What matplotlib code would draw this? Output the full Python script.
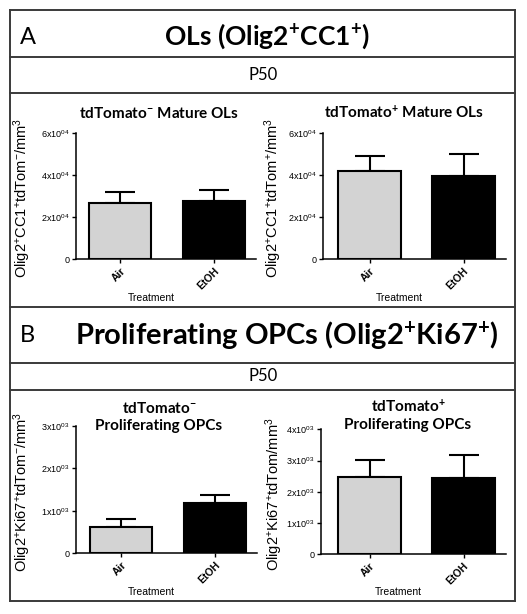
import matplotlib
matplotlib.use('Agg')
from matplotlib import pyplot as plt

plt.rcParams['font.family'] = ['Liberation Sans', 'DejaVu Sans']
plt.rcParams['mathtext.default'] = 'regular'

W, H = 527, 614

categories = ['Air', 'EtOH']
bar_colors = ['#d3d3d3', 'black']

# tdTomato- mature OLs
ol_neg_mean = [2.68e4, 2.78e4]
ol_neg_sem = [0.51e4, 0.52e4]
# tdTomato+ mature OLs
ol_pos_mean = [4.22e4, 3.97e4]
ol_pos_sem = [0.70e4, 1.04e4]
# tdTomato- proliferating OPCs
opc_neg_mean = [0.63e3, 1.18e3]
opc_neg_sem = [0.17e3, 0.18e3]
# tdTomato+ proliferating OPCs
opc_pos_mean = [2.48e3, 2.43e3]
opc_pos_sem = [0.54e3, 0.75e3]

ol_ticks = [0, 2e4, 4e4, 6e4]
opc_neg_ticks = [0, 1e3, 2e3, 3e3]
opc_pos_ticks = [0, 1e3, 2e3, 3e3, 4e3]

titles = ['tdTomato$^{-}$ Mature OLs', 'tdTomato$^{+}$ Mature OLs',
          'tdTomato$^{-}$\nProliferating OPCs', 'tdTomato$^{+}$\nProliferating OPCs']
ylabels = ['Olig2$^{+}$CC1$^{+}$tdTom$^{-}$/mm$^{3}$',
           'Olig2$^{+}$CC1$^{+}$tdTom$^{+}$/mm$^{3}$',
           'Olig2$^{+}$Ki67$^{+}$tdTom$^{-}$/mm$^{3}$',
           'Olig2$^{+}$Ki67$^{+}$tdTom/mm$^{3}$']


def tick_label(v, e):
    if v == 0:
        return '0'
    return '%dx10$^{0%d}$' % (round(v / 10 ** e), e)


fig = plt.figure(figsize=(W / 100, H / 100), dpi=100)

# background layer in pixel coords: table lines and headers
bg = fig.add_axes([0, 0, 1, 1])
bg.set_xlim(0, W)
bg.set_ylim(H, 0)
bg.axis('off')
line_kw = dict(color='#3a3a3a', lw=1.4)
L, R = 10, 515
for y in [10, 57, 93, 307, 363, 390, 601]:
    bg.plot([L, R], [y, y], **line_kw)
bg.plot([L, L], [10, 601], **line_kw)
bg.plot([R, R], [10, 601], **line_kw)

bg.text(20, 37, 'A', fontsize=17, family='Lato', va='center', ha='left')
bg.text(267, 36, 'OLs (Olig2$^{+}$CC1$^{+}$)', fontsize=19, family='Lato',
        weight='bold', va='center', ha='center')
bg.text(263, 75, 'P50', fontsize=12, family='Lato', va='center', ha='center')
bg.text(20, 336, 'B', fontsize=17, family='Lato', va='center', ha='left')
bg.text(287, 336, 'Proliferating OPCs (Olig2$^{+}$Ki67$^{+}$)', fontsize=21,
        family='Lato', weight='bold', va='center', ha='center')
bg.text(263, 376, 'P50', fontsize=12, family='Lato', va='center', ha='center')

# panel geometry: axis x, Air center x, zero y, top y (pixels)
panels = [
    (76, 120, 259.3, 132.7, ol_neg_mean, ol_neg_sem, ol_ticks, 4, 159, 113, 22, 298),
    (323, 369.5, 259.3, 133.3, ol_pos_mean, ol_pos_sem, ol_ticks, 4, 404, 113, 273, 298),
    (76, 121, 553.3, 425.7, opc_neg_mean, opc_neg_sem, opc_neg_ticks, 3, 159, 417, 22, 592),
    (321, 369.5, 554.3, 429.3, opc_pos_mean, opc_pos_sem, opc_pos_ticks, 3, 408, 415, 274, 592),
]
step = 94.0
x_right = 1.45

for i, (xa, cx0, y0, yt, mean, sem, ticks, e, tx, ty, lx, xly) in enumerate(panels):
    x1 = cx0 + x_right * step
    ax = fig.add_axes([xa / W, 1 - y0 / H, (x1 - xa) / W, (y0 - yt) / H])
    ax.patch.set_alpha(0)
    pos = list(range(len(categories)))
    ax.bar(pos, mean, width=0.66, color=bar_colors, edgecolor='black',
           linewidth=1.5, zorder=2)
    ax.errorbar(pos, mean, yerr=[[0, 0], sem], fmt='none', ecolor='black',
                elinewidth=1.5, capsize=11, capthick=1.5, zorder=1)
    ax.set_xlim((xa - cx0) / step, x_right)
    ax.set_ylim(0, ticks[-1])
    ax.set_yticks(ticks)
    ax.set_yticklabels([tick_label(v, e) for v in ticks], fontsize=6.5)
    ax.set_xticks(pos)
    ax.set_xticklabels(categories, rotation=45, ha='right', va='top',
                       rotation_mode='anchor', fontsize=7.5, weight='bold')
    ax.tick_params(length=3, width=1, pad=1.5)
    for s in ['top', 'right']:
        ax.spines[s].set_visible(False)
    for s in ['left', 'bottom']:
        ax.spines[s].set_linewidth(1.1)
    bg.text(tx, ty, titles[i], fontsize=11, family='Lato', weight='bold',
            ha='center', va='center', linespacing=1.25)
    bg.text(lx, (y0 + yt) / 2 + 2, ylabels[i], fontsize=10.5, rotation=90,
            ha='center', va='center')
    bg.text((xa + x1) / 2 - 15, xly, 'Treatment', fontsize=7.5,
            ha='center', va='center')

fig.savefig('out.png', dpi=100)
